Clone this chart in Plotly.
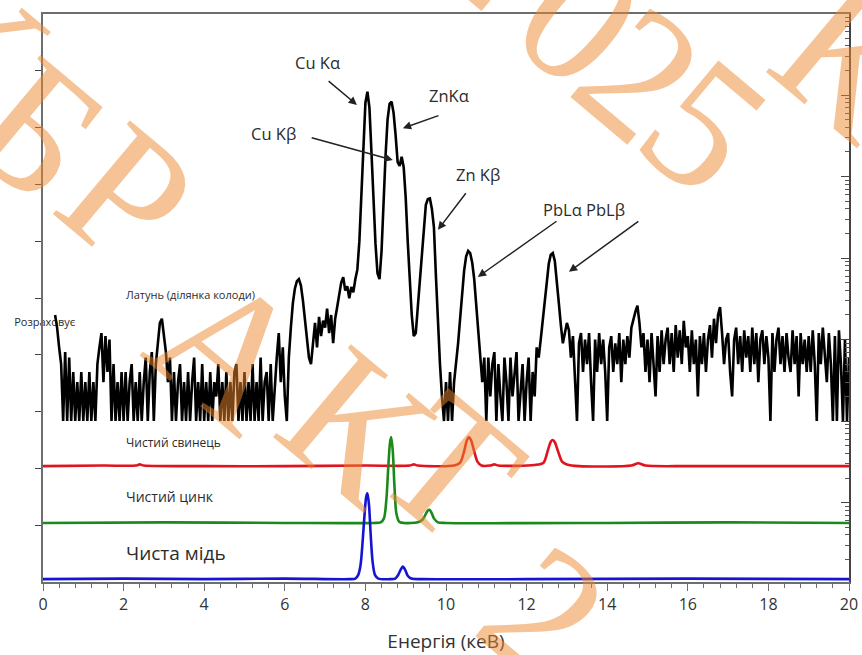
import plotly.graph_objects as go

# ---------------- data ----------------
# Brass spectrum (counts per 0.05 keV channel, starting at 0.30 keV), log scale
brass_start_kev = 0.30
brass_step_kev = 0.05
brass_counts = (
    [20, 14, 8, 5, 1, 7, 1, 6, 1, 4, 1, 3, 1, 4] +                                   # 0.30-0.95
    [1, 3, 1, 4, 1, 3, 1, 5, 8, 12, 3, 11, 4, 10, 1, 5, 1, 3, 1, 4] +                # 1
    [1, 4, 1, 3, 5, 1, 3, 1, 4, 1, 3, 6, 1, 4, 7, 1, 5, 9, 16, 18] +                 # 2
    [12, 7, 3, 6, 1, 4, 1, 3, 5, 1, 3, 1, 4, 1, 3, 6, 1, 3, 1, 5] +                  # 3
    [1, 3, 1, 4, 1, 3, 2, 5, 1, 3, 1, 4, 1, 3, 1, 4, 5, 1, 3, 1] +                   # 4
    [4, 1, 3, 1, 5, 1, 3, 1, 6, 1, 3, 4, 1, 5, 1, 3, 6, 12, 3, 8] +                  # 5
    [2, 1, 6, 14, 28, 42, 52, 55, 46, 30, 17, 10, 6, 5, 10, 16, 8, 19, 11, 17] +     # 6
    [14, 24, 12, 20, 9, 18, 25, 35, 50, 58, 40, 45, 32, 44, 38, 55, 72, 160, 700, 3000] +  # 7
    [8000, 11000, 7000, 2000, 500, 150, 65, 55, 120, 600, 1800, 5000, 7800, 8300,
     6000, 3200, 1500, 1350, 1750, 1300] +                                            # 8
    [550, 160, 60, 20, 11, 12, 25, 55, 95, 250, 450, 530, 540, 400, 240, 60, 15, 5, 2, 1] +  # 9
    [3, 1, 4, 1, 3, 5, 9, 18, 35, 70, 105, 122, 115, 88, 55, 26, 12, 7, 3, 6] +      # 10
    [1, 6, 2, 5, 7, 1, 5, 2, 1, 6, 3, 1, 6, 2, 4, 7, 1, 2, 5, 1] +                   # 11
    [3, 6, 1, 4, 2, 8, 6, 10, 18, 30, 52, 85, 110, 115, 92, 55, 28, 15, 9, 12] +     # 12
    [16, 13, 6, 11, 4, 1, 9, 12, 4, 10, 5, 12, 3, 1, 10, 4, 12, 5, 10, 4] +          # 13
    [1, 8, 11, 4, 9, 5, 12, 3, 10, 5, 11, 6, 14, 18, 22, 26, 16, 8, 12, 4] +         # 14
    [10, 3, 12, 5, 2, 11, 4, 13, 5, 10, 14, 5, 12, 4, 15, 6, 13, 5, 17, 8] +         # 15
    [11, 4, 13, 5, 10, 2, 11, 5, 12, 4, 10, 15, 6, 18, 9, 20, 25, 12, 5, 10] +       # 16
    [12, 4, 2, 10, 14, 5, 11, 4, 13, 6, 11, 4, 14, 5, 12, 3, 10, 13, 5, 11] +        # 17
    [6, 1, 12, 4, 10, 14, 5, 11, 4, 12, 6, 4, 13, 5, 11, 2, 12, 5, 10, 4] +          # 18
    [11, 4, 13, 5, 1, 12, 5, 14, 6, 3, 12, 5, 1, 11, 1, 13, 5, 1, 10, 1] +           # 19
    [6]                                                                               # 20
)

# Pure-element reference spectra (offset, linear units)
copper_kev = [0.0, 2.0, 4.0, 6.0, 7.6, 7.75, 7.82, 7.88, 7.93, 7.98, 8.02, 8.05, 8.09, 8.13,
              8.18, 8.24, 8.32, 8.6, 8.74, 8.81, 8.87, 8.93, 8.99, 9.05, 9.14, 9.4, 12.0, 16.0, 20.0]
copper_val = [0.05, 0.06, 0.05, 0.06, 0.05, 0.06, 0.12, 0.3, 0.7, 1.2, 1.5, 1.56, 1.35, 0.85,
              0.35, 0.12, 0.06, 0.05, 0.06, 0.12, 0.21, 0.27, 0.21, 0.11, 0.06, 0.05, 0.05, 0.06, 0.05]

zinc_kev = [0.0, 3.0, 6.0, 8.2, 8.38, 8.46, 8.52, 8.57, 8.61, 8.64, 8.68, 8.72, 8.77, 8.84,
            8.95, 9.3, 9.42, 9.5, 9.55, 9.59, 9.64, 9.7, 9.8, 10.0, 14.0, 17.0, 20.0]
zinc_val = [1.04, 1.05, 1.04, 1.04, 1.05, 1.12, 1.45, 2.05, 2.45, 2.55, 2.3, 1.7, 1.2, 1.06,
            1.04, 1.05, 1.1, 1.2, 1.26, 1.27, 1.22, 1.12, 1.05, 1.04, 1.04, 1.05, 1.04]

lead_kev = [0.0, 1.5, 2.3, 2.4, 2.5, 4.0, 6.0, 8.0, 9.1, 9.2, 9.3, 10.2, 10.35, 10.45, 10.52,
            10.57, 10.62, 10.7, 10.78, 10.88, 11.1, 11.2, 11.3, 12.2, 12.42, 12.52, 12.6, 12.65,
            12.7, 12.79, 12.88, 13.0, 13.3, 14.6, 14.77, 14.95, 16.0, 18.0, 20.0]
lead_val = [2.04, 2.05, 2.05, 2.07, 2.05, 2.04, 2.04, 2.05, 2.05, 2.07, 2.05, 2.05, 2.1, 2.3, 2.5,
            2.55, 2.5, 2.3, 2.12, 2.05, 2.05, 2.07, 2.05, 2.06, 2.1, 2.3, 2.47, 2.5,
            2.46, 2.28, 2.12, 2.07, 2.04, 2.05, 2.09, 2.05, 2.04, 2.04, 2.04]

x_ticks = [0, 2, 4, 6, 8, 10, 12, 14, 16, 18, 20]

# ---------------- figure ----------------
TXT = "#2b2b2b"
AX = "#6e6e6e"
SANS = "Open Sans, Noto Sans, sans-serif"

fig = go.Figure()

# partially hidden label (drawn under the brass trace)
fig.add_trace(go.Scatter(x=[0.8], y=[4.56], mode="text", text=["Розраховує"],
                         textposition="middle left", cliponaxis=False,
                         textfont=dict(family=SANS, size=11, color=TXT),
                         hoverinfo="skip"))

fig.add_trace(go.Scatter(x=lead_kev, y=lead_val, mode="lines",
                         line=dict(color="#e0141e", width=2.6, shape="spline", smoothing=0.8)))
fig.add_trace(go.Scatter(x=zinc_kev, y=zinc_val, mode="lines",
                         line=dict(color="#1a8a1a", width=2.6, shape="spline", smoothing=0.8)))
fig.add_trace(go.Scatter(x=copper_kev, y=copper_val, mode="lines",
                         line=dict(color="#1414d2", width=2.6, shape="spline", smoothing=0.8)))

fig.add_trace(go.Scatter(x0=brass_start_kev, dx=brass_step_kev, y=brass_counts, yaxis="y2",
                         mode="lines", line=dict(color="black", width=2.6)))

decades = [0.01, 0.1, 1, 10, 100, 1000, 10000, 100000]
minor_vals = [k * d for d in decades[:-1] for k in range(2, 10)]

fig.update_layout(
    width=862, height=655,
    margin=dict(l=43, r=13, t=14, b=73, autoexpand=False),
    paper_bgcolor="white", plot_bgcolor="white",
    showlegend=False,
    font=dict(family=SANS, color=TXT),
    xaxis=dict(range=[0, 20], tickvals=x_ticks, ticktext=[str(v) for v in x_ticks],
               automargin=False,
               showgrid=False, zeroline=False, showline=True, linecolor=AX, linewidth=1.5,
               mirror=True, ticks="outside", ticklen=7, tickcolor=AX, tickwidth=1.2,
               minor=dict(dtick=0.4, tick0=0, ticks="outside", ticklen=4, tickcolor=AX),
               tickfont=dict(size=16, color="#333"),
               title=dict(text="Енергія (кеВ)", font=dict(size=19, color="#333"), standoff=21)),
    yaxis=dict(range=[0, 10], tickvals=[1, 2, 3, 4, 5, 6, 7, 8, 9], showticklabels=False,
               automargin=False,
               showgrid=False, zeroline=False, showline=True, linecolor=AX, linewidth=1.5,
               ticks="outside", ticklen=6, tickcolor="#444", tickwidth=1.2),
    yaxis2=dict(overlaying="y", side="right", type="log", range=[-1.975, 4.994],
                automargin=False,
                showgrid=False, zeroline=False, showline=True, linecolor="#444", linewidth=1.5,
                tickvals=decades, showticklabels=False, ticks="inside", ticklen=8,
                tickcolor="#444", tickwidth=1.2,
                minor=dict(tickmode="array", tickvals=minor_vals, ticks="inside", ticklen=4,
                           tickcolor="#555", tickwidth=1)),
)

# peak labels
labels = [
    ("Cu Kα", 6.82, 9.15), ("Cu Kβ", 5.71, 7.90), ("ZnKα", 10.07, 8.56),
    ("Zn Kβ", 10.79, 7.17), ("PbLα PbLβ", 13.42, 6.55),
]
for t, x, y in labels:
    fig.add_annotation(x=x, y=y, text=t, showarrow=False,
                       font=dict(family=SANS, size=16.5, color=TXT))

arrows = [  # head (x, y), tail (ax, ay)
    (7.79, 8.40, 7.05, 8.84),
    (8.93, 7.99, 9.85, 8.22),
    (8.68, 7.43, 6.63, 7.83),
    (9.80, 6.20, 10.52, 6.87),
    (10.79, 5.37, 12.78, 6.37),
    (13.05, 5.46, 14.81, 6.37),
]
for x, y, ax, ay in arrows:
    fig.add_annotation(x=x, y=y, ax=ax, ay=ay, axref="x", ayref="y", text="",
                       showarrow=True, arrowhead=2, arrowsize=1.1, arrowwidth=1.5,
                       arrowcolor="#222", standoff=0, startstandoff=0)

sample_labels = [
    ("Латунь (ділянка колоди)", 2.0, 5.07, 11),
    ("Чистий свинець", 2.0, 2.45, 12),
    ("Чистий цинк", 2.0, 1.50, 14),
    ("Чиста мідь", 2.0, 0.51, 19),
]
for t, x, y, s in sample_labels:
    fig.add_annotation(x=x, y=y, text=t, showarrow=False, xanchor="left",
                       font=dict(family=SANS, size=s, color=TXT))

# watermark (pixel positions converted to paper)
def px2paper(px, py):
    return (px - 43) / 806.0, (582 - py) / 568.0

watermark = [("К", -30, 40), ("Б", 38, 130), ("Р", 127, 195), ("А", 230, 349),
             ("К", 357, 425), ("Т", 452, 467), ("2", 545, 612),
             ("2", 495, -60), ("0", 580, 18), ("2", 640, 73), ("5", 705, 125),
             ("К", 850, 60)]
for t, px, py in watermark:
    xp, yp = px2paper(px, py)
    fig.add_annotation(x=xp, y=yp, xref="paper", yref="paper", text=t, showarrow=False,
                       textangle=40, xanchor="center", yanchor="middle",
                       font=dict(family="Liberation Serif, serif", size=185,
                                 color="rgba(236,135,45,0.5)"))

fig.write_html("out.html")
